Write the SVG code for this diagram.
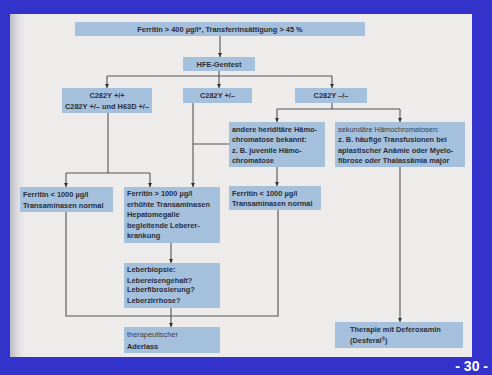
<svg xmlns="http://www.w3.org/2000/svg" width="492" height="375" viewBox="0 0 492 375">
<defs>
<linearGradient id="edge" x1="0" y1="0" x2="1" y2="0">
<stop offset="0" stop-color="#b9bac4"/>
<stop offset="1" stop-color="#eeeeec" stop-opacity="0"/>
</linearGradient>
<marker id="ah" viewBox="0 0 6 6" refX="6" refY="3" markerWidth="4" markerHeight="4" orient="auto" markerUnits="userSpaceOnUse">
<path d="M0,0 L6,3 L0,6 z" fill="#333"/>
</marker>
<style>
.box{fill:#a4c0dd;}
.t{font-family:"Liberation Sans",Arial,sans-serif;font-size:7.4px;font-weight:bold;fill:#2b2d3a;}
.c{text-anchor:middle;}
.s{font-weight:normal;fill:#3a3c48;}
.ln{fill:none;stroke:#555;stroke-width:1.1;}
.ar{fill:none;stroke:#555;stroke-width:1.1;marker-end:url(#ah);}
</style>
</defs>
<rect x="0" y="0" width="492" height="375" fill="#3333cc"/>
<rect x="10" y="14" width="462" height="343" fill="#edeceb"/>
<rect x="10" y="14" width="18" height="343" fill="url(#edge)"/>
<text x="488" y="371" font-family="Liberation Sans,Arial,sans-serif" font-size="14" font-weight="bold" fill="#ffffff" text-anchor="end">- 30 -</text>

<g id="connectors">
<path class="ar" d="M220,36 V57"/>
<path class="ln" d="M219,71 V76 M107,76 H332"/>
<path class="ar" d="M107,76 V88"/>
<path class="ar" d="M219,76 V88"/>
<path class="ar" d="M332,76 V88"/>
<path class="ln" d="M332,103 V109 M277,109 H400"/>
<path class="ar" d="M277,109 V122"/>
<path class="ar" d="M400,109 V122"/>
<path class="ln" d="M108,113 V173 M66,173 H150"/>
<path class="ar" d="M66,173 V187"/>
<path class="ar" d="M150,173 V187"/>
<path class="ar" d="M193,103 V187"/>
<path class="ln" d="M193,144 H229"/>
<path class="ar" d="M277,167 V186"/>
<path class="ar" d="M171,243 V263"/>
<path class="ln" d="M66,212 V316 H278 V210"/>
<path class="ar" d="M171,308 V327"/>
<path class="ar" d="M400,167 V322"/>
</g>

<g id="n-start"><rect class="box" x="75" y="22" width="290" height="14"/>
<text class="t c" x="220" y="31.8">Ferritin &gt; 400 µg/l*, Transferrinsättigung &gt; 45 %</text></g>

<g id="n-hfe"><rect class="box" x="183" y="57" width="72" height="14"/>
<text class="t c" x="219" y="66.8">HFE-Gentest</text></g>

<g id="n-homo"><rect class="box" x="62" y="88" width="90" height="25"/>
<text class="t c" x="107" y="97.5">C282Y +/+</text>
<text class="t c" x="107" y="109">C282Y +/– und H63D +/–</text></g>

<g id="n-het"><rect class="box" x="183" y="88" width="69" height="15"/>
<text class="t c" x="217.5" y="98.2">C282Y +/–</text></g>

<g id="n-neg"><rect class="box" x="295" y="88" width="72" height="15"/>
<text class="t c" x="331" y="98.2">C282Y –/–</text></g>

<g id="n-andere"><rect class="box" x="229" y="122" width="96" height="45"/>
<text class="t" x="232" y="131.5">andere heriditäre Hämo-</text>
<text class="t" x="232" y="142">chromatose bekannt:</text>
<text class="t" x="232" y="152.5">z. B. juvenile Hämo-</text>
<text class="t" x="232" y="163">chromatose</text></g>

<g id="n-sek"><rect class="box" x="335" y="122" width="130" height="45"/>
<text class="t s" x="338" y="131.5">sekundäre Hämochromatosen:</text>
<text class="t" x="338" y="142">z. B. häufige Transfusionen bei</text>
<text class="t" x="338" y="152.5">aplastischer Anämie oder Myelo-</text>
<text class="t" x="338" y="163">fibrose oder Thalassämia major</text></g>

<g id="n-f1"><rect class="box" x="20" y="187" width="93" height="25"/>
<text class="t" x="23" y="197">Ferritin &lt; 1000 µg/l</text>
<text class="t" x="23" y="207.5">Transaminasen normal</text></g>

<g id="n-f2"><rect class="box" x="124" y="187" width="96" height="56"/>
<text class="t" x="127" y="196">Ferritin &gt; 1000 µg/l</text>
<text class="t" x="127" y="206.5">erhöhte Transaminasen</text>
<text class="t" x="127" y="217">Hepatomegalie</text>
<text class="t" x="127" y="227.5">begleitende Leberer-</text>
<text class="t" x="127" y="238">krankung</text></g>

<g id="n-f3"><rect class="box" x="229" y="186" width="92" height="24"/>
<text class="t" x="232" y="195.5">Ferritin &lt; 1000 µg/l</text>
<text class="t" x="232" y="206">Transaminasen normal</text></g>

<g id="n-biopsie"><rect class="box" x="124" y="263" width="96" height="45"/>
<text class="t" x="127" y="272">Leberbiopsie:</text>
<text class="t" x="127" y="282.5">Lebereisengehalt?</text>
<text class="t" x="127" y="292" font-size="6.6">Leberfibrosierung?</text>
<text class="t" x="127" y="302.5">Leberzirrhose?</text></g>

<g id="n-aderlass"><rect class="box" x="124" y="327" width="96" height="26"/>
<text class="t s" x="127" y="337">therapeutischer</text>
<text class="t" x="127" y="349">Aderlass</text></g>

<g id="n-therapie"><rect class="box" x="335" y="322" width="128" height="26"/>
<text class="t" x="350" y="332">Therapie mit Deferoxamin</text>
<text class="t" x="350" y="343">(Desferal<tspan font-size="4.5" dy="-2.5">®</tspan><tspan dy="2.5">)</tspan></text></g>
</svg>
